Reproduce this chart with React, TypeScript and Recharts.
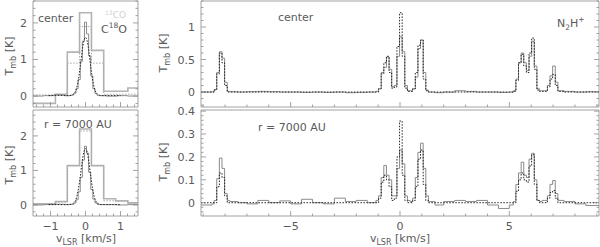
import React from 'react';
import { LineChart, Line, XAxis, YAxis } from 'recharts';

const W = 600;
const H = 247;
const AXIS = '#8c8c8c';
const INK = '#5a5a5a';
const FONT = '"DejaVu Sans", sans-serif';

// ---- left panels: C18O (fine) and 13CO (coarse) ----
const co13V = [-1.5, -0.86, -0.52, -0.17, 0.17, 0.52, 0.86, 1.21, 1.5];
const co13Center = [-0.2, 0.05, 1.2, 2.28, 1.25, 0.13, 0.13, 0.22, 0.22];
const co13CenterModel = [0.03, 0.03, 0.9, 1.9, 0.9, 0.05, 0.05, 0.05, 0.05];
const co13Outer = [0.03, 0.1, 1.14, 2.2, 1.14, 0.18, 0.12, 0.06, 0.06];
const co13OuterModel = [0.03, 0.08, 1.14, 2.14, 1.14, 0.12, 0.1, 0.06, 0.06];

const c18oV = [-1.5, -1.2, -0.9, -0.6, -0.45, -0.39, -0.33, -0.27, -0.21, -0.15, -0.09, -0.03, 0.03, 0.09, 0.15, 0.21, 0.27, 0.33, 0.39, 0.6, 0.9, 1.2, 1.5];
const c18oCenter = [0, 0.01, 0.03, 0.01, 0.02, 0.03, 0.08, 0.2, 0.45, 0.95, 1.5, 2.02, 1.7, 1.1, 0.55, 0.2, 0.07, 0.02, 0.01, 0, 0.01, 0, 0];
const c18oOuter = [0, 0.01, 0.02, 0.01, 0.02, 0.02, 0.06, 0.15, 0.38, 0.8, 1.3, 1.7, 1.5, 0.95, 0.45, 0.17, 0.06, 0.02, 0.01, 0.01, 0, 0.01, 0.01];

const c18oModelV = [-1.05, -0.8, -0.5, -0.4, -0.3, -0.25, -0.2, -0.15, -0.1, -0.05, 0, 0.05, 0.1, 0.15, 0.2, 0.25, 0.3, 0.4, 0.5, 0.8, 1.0];
const c18oCenterModel = [0.01, 0.02, 0.01, 0.02, 0.1, 0.23, 0.47, 0.8, 1.2, 1.5, 1.6, 1.5, 1.2, 0.8, 0.47, 0.23, 0.1, 0.02, 0.01, 0.01, 0.01];
const c18oOuterModel = [0.01, 0.01, 0.01, 0.02, 0.1, 0.24, 0.48, 0.82, 1.22, 1.52, 1.63, 1.52, 1.22, 0.82, 0.48, 0.24, 0.1, 0.02, 0.01, 0.01, 0.01];

// ---- right panels: N2H+ hyperfine spectrum ----
const n2hV = [
  -9.1, -8.6, -8.5, -8.38, -8.26, -8.14, -8.02, -7.9, -7.78, -7.4, -7.0, -6.5, -6.0, -5.5, -5.0, -4.5,
  -4.0, -3.5, -3.0, -2.5, -2.0, -1.5, -1.1, -0.98, -0.86, -0.74, -0.62, -0.5, -0.38, -0.26, -0.14, -0.02,
  0.1, 0.22, 0.34, 0.46, 0.58, 0.7, 0.82, 0.94, 1.06, 1.18, 1.3, 1.6, 2.0, 2.5, 3.0, 3.5, 4.0, 4.5, 5.0,
  5.18, 5.3, 5.42, 5.54, 5.66, 5.78, 5.9, 6.02, 6.14, 6.26, 6.38, 6.5, 6.62, 6.74, 6.86, 6.98, 7.1, 7.22,
  7.5, 8.0, 8.5, 9.1,
];
const n2hCenter = [
  0, 0.005, 0.04, 0.3, 0.62, 0.52, 0.15, 0.01, 0.005, 0, 0.005, 0.01, 0.005, 0, 0, -0.005,
  0, -0.005, 0, -0.01, -0.005, 0, 0.01, 0.05, 0.3, 0.38, 0.54, 0.35, 0.08, 0.1, 0.55, 0.85,
  0.62, 0.1, 0.02, 0.02, 0.05, 0.23, 0.67, 0.8, 0.3, 0.03, 0, -0.01, 0, 0.02, 0.01, 0, 0, -0.005, 0,
  0.02, 0.2, 0.45, 0.6, 0.45, 0.33, 0.55, 0.78, 0.4, 0.05, 0.02, 0.02, 0.02, 0.1, 0.25, 0.4, 0.15, 0.02,
  0.01, 0, 0.005, 0.005,
];
const n2hCenterModel = [
  0, 0, 0.03, 0.28, 0.6, 0.45, 0.1, 0, 0, 0, 0, 0, 0, 0, 0, 0,
  0, 0, 0, 0, 0, 0, 0, 0.05, 0.28, 0.45, 0.55, 0.3, 0.06, 0.08, 0.7, 1.22,
  0.55, 0.06, 0.01, 0.01, 0.05, 0.3, 0.72, 0.8, 0.2, 0.02, 0, 0, 0, 0, 0, 0, 0, 0, 0,
  0.01, 0.18, 0.45, 0.58, 0.4, 0.3, 0.6, 0.83, 0.35, 0.03, 0.01, 0.01, 0.01, 0.08, 0.2, 0.27, 0.1, 0.01,
  0, 0, 0, 0,
];
const n2hOuter = [
  -0.01, -0.005, 0.01, 0.105, 0.195, 0.15, 0.04, 0.01, 0.005, 0, -0.005, 0.01, 0, 0.008, -0.005, 0.015,
  0, -0.005, 0.02, 0.005, 0.01, 0, 0.01, 0.03, 0.11, 0.163, 0.12, 0.1, 0.03, 0.03, 0.15, 0.23,
  0.17, 0.03, 0.01, 0.005, 0.02, 0.11, 0.22, 0.26, 0.15, 0.03, 0.005, -0.01, 0.005, 0.01, 0.005, 0.01, -0.01, -0.025, -0.01,
  0.005, 0.08, 0.13, 0.177, 0.12, 0.11, 0.19, 0.216, 0.1, 0.01, 0.005, 0.01, 0.01, 0.03, 0.08, 0.097, 0.04, 0.01,
  0.005, -0.005, -0.012, -0.012,
];
const n2hOuterModel = [
  0, 0, 0, 0.07, 0.13, 0.11, 0.03, 0, 0, 0, 0, 0, 0, 0, 0, 0,
  0, 0, 0, 0, 0, 0, 0, 0.02, 0.09, 0.12, 0.1, 0.07, 0.01, 0.02, 0.2, 0.357,
  0.12, 0.01, 0, 0, 0.01, 0.07, 0.19, 0.23, 0.08, 0.01, 0, 0, 0, 0, 0, 0, 0, 0, 0,
  0, 0.05, 0.1, 0.13, 0.1, 0.09, 0.16, 0.21, 0.08, 0.01, 0, 0, 0, 0.02, 0.045, 0.053, 0.02, 0,
  0, 0, 0, 0,
];

// axis ticks
const leftXMajor = [-1, 0, 1];
const rightXMajor = [-5, 0, 5];
const leftYMajor = [0, 1, 2];
const topRightYMajor = [0, 0.5, 1];
const botRightYMajor = [0, 0.1, 0.2, 0.3, 0.4];

function steps(from: number, to: number, step: number) {
  const out: number[] = [];
  for (let k = Math.round(from / step); k * step <= to + 1e-9; k++) out.push(+(k * step).toFixed(4));
  return out;
}

const pts = (xs: number[], ys: number[]) => xs.map((v, i) => ({ v, t: ys[i] }));
const fmt = (v: number) => (v < 0 ? '\u2212' + String(Math.abs(v)) : String(v));

type Side = 'bottom' | 'top' | 'left' | 'right';

const tickRenderer = (side: Side, majors: number[], labels: boolean) => (props: any) => {
  const { x, y, payload } = props;
  const v = payload.value as number;
  const major = majors.some((m) => Math.abs(m - v) < 1e-6);
  const len = major ? 5 : 2.5;
  let ln = { x1: x, y1: y, x2: x, y2: y };
  if (side === 'bottom') ln = { x1: x, y1: y, x2: x, y2: y - len };
  if (side === 'top') ln = { x1: x, y1: y, x2: x, y2: y + len };
  if (side === 'left') ln = { x1: x, y1: y, x2: x + len, y2: y };
  if (side === 'right') ln = { x1: x, y1: y, x2: x - len, y2: y };
  return (
    <g>
      <line {...ln} stroke={AXIS} strokeWidth={0.8} />
      {labels && major && side === 'bottom' && (
        <text x={x} y={y + 14} textAnchor="middle" fontSize={11} fontFamily={FONT} fill={INK}>
          {fmt(v)}
        </text>
      )}
      {labels && major && side === 'left' && (
        <text x={x - 6} y={y + 4} textAnchor="end" fontSize={11} fontFamily={FONT} fill={INK}>
          {fmt(v)}
        </text>
      )}
    </g>
  );
};

interface Series {
  data: { v: number; t: number }[];
  stroke: string;
  width?: number;
  dash?: string;
  type?: 'stepAfter' | 'monotone';
}

interface PanelProps {
  // plot box edges in page pixels
  box: { top: number; right: number; bottom: number; left: number };
  xDomain: [number, number];
  yDomain: [number, number];
  xTicks: number[];
  xMajor: number[];
  yTicks: number[];
  yMajor: number[];
  xLabels: boolean;
  series: Series[];
}

function Panel({ box, xDomain, yDomain, xTicks, xMajor, yTicks, yMajor, xLabels, series }: PanelProps) {
  // axes are 1px wide/high, so take that off the margins
  const margin = { top: box.top - 1, left: box.left - 1, right: W - box.right - 1, bottom: H - box.bottom - 1 };
  const common = {
    type: 'number' as const,
    allowDataOverflow: true,
    interval: 0 as const,
    tickSize: 0,
    tickMargin: 0,
    tickLine: false,
    axisLine: { stroke: AXIS, strokeWidth: 0.8 },
  };
  return (
    <div style={{ position: 'absolute', left: 0, top: 0 }}>
      <LineChart width={W} height={H} margin={margin}>
        <XAxis {...common} xAxisId="b" dataKey="v" domain={xDomain} ticks={xTicks} height={1} tick={tickRenderer('bottom', xMajor, xLabels)} />
        <XAxis {...common} xAxisId="t" orientation="top" domain={xDomain} ticks={xTicks} height={1} tick={tickRenderer('top', xMajor, false)} />
        <YAxis {...common} yAxisId="l" domain={yDomain} ticks={yTicks} width={1} tick={tickRenderer('left', yMajor, true)} />
        <YAxis {...common} yAxisId="r" orientation="right" domain={yDomain} ticks={yTicks} width={1} tick={tickRenderer('right', yMajor, false)} />
        {series.map((s, i) => (
          <Line
            key={i}
            xAxisId="b"
            yAxisId="l"
            data={s.data}
            dataKey="t"
            type={s.type ?? 'stepAfter'}
            stroke={s.stroke}
            strokeWidth={s.width ?? 1}
            strokeDasharray={s.dash}
            dot={false}
            activeDot={false}
            isAnimationActive={false}
          />
        ))}
      </LineChart>
    </div>
  );
}

function Tmb({ x, y }: { x: number; y: number }) {
  return (
    <text transform={`translate(${x},${y}) rotate(-90)`} textAnchor="middle">
      T<tspan dy={3} fontSize={8}>mb</tspan>
      <tspan dy={-3}> [K]</tspan>
    </text>
  );
}

function Vlsr({ x, y }: { x: number; y: number }) {
  return (
    <text x={x} y={y} textAnchor="middle">
      v<tspan dy={3} fontSize={8}>LSR</tspan>
      <tspan dy={-3}> [km/s]</tspan>
    </text>
  );
}

export default function App() {
  const GRAY_THICK = '#b4b4b4';
  const GRAY = '#8a8a8a';
  const BLACK = '#222';
  const DOT = '1.5 1.5';
  const leftX = steps(-1.4, 1.4, 0.2);
  const leftY = steps(-0.2, 2.6, 0.2);
  const rightX = steps(-9, 9, 1);

  return (
    <div style={{ position: 'absolute', left: 0, top: 0, width: W, height: H, background: '#fff' }}>
      <Panel
        box={{ top: 1, right: 138, bottom: 107, left: 33 }}
        xDomain={[-1.5, 1.5]}
        yDomain={[-0.3, 2.6]}
        xTicks={leftX}
        xMajor={leftXMajor}
        yTicks={leftY}
        yMajor={leftYMajor}
        xLabels={false}
        series={[
          { data: pts(co13V, co13Center), stroke: GRAY_THICK, width: 1.6 },
          { data: pts(co13V, co13CenterModel), stroke: '#a8a8a8', dash: DOT },
          { data: pts(c18oV, c18oCenter), stroke: GRAY },
          { data: pts(c18oModelV, c18oCenterModel), stroke: BLACK, dash: DOT, type: 'monotone' },
        ]}
      />
      <Panel
        box={{ top: 110, right: 138, bottom: 216, left: 33 }}
        xDomain={[-1.5, 1.5]}
        yDomain={[-0.32, 2.75]}
        xTicks={leftX}
        xMajor={leftXMajor}
        yTicks={leftY}
        yMajor={leftYMajor}
        xLabels
        series={[
          { data: pts(co13V, co13Outer), stroke: GRAY_THICK, width: 1.6 },
          { data: pts(co13V, co13OuterModel), stroke: '#a8a8a8', dash: DOT },
          { data: pts(c18oV, c18oOuter), stroke: GRAY },
          { data: pts(c18oModelV, c18oOuterModel), stroke: BLACK, dash: DOT, type: 'monotone' },
        ]}
      />
      <Panel
        box={{ top: 1, right: 599, bottom: 107, left: 201 }}
        xDomain={[-9.1, 9.1]}
        yDomain={[-0.23, 1.4]}
        xTicks={rightX}
        xMajor={rightXMajor}
        yTicks={steps(-0.2, 1.4, 0.1)}
        yMajor={topRightYMajor}
        xLabels={false}
        series={[
          { data: pts(n2hV, n2hCenter), stroke: GRAY },
          { data: pts(n2hV, n2hCenterModel), stroke: BLACK, dash: DOT },
        ]}
      />
      <Panel
        box={{ top: 110, right: 599, bottom: 216, left: 201 }}
        xDomain={[-9.1, 9.1]}
        yDomain={[-0.058, 0.405]}
        xTicks={rightX}
        xMajor={rightXMajor}
        yTicks={steps(-0.04, 0.4, 0.02)}
        yMajor={botRightYMajor}
        xLabels
        series={[
          { data: pts(n2hV, n2hOuter), stroke: GRAY },
          { data: pts(n2hV, n2hOuterModel), stroke: BLACK, dash: DOT },
        ]}
      />
      <svg width={W} height={H} style={{ position: 'absolute', left: 0, top: 0, pointerEvents: 'none' }} fontFamily={FONT} fontSize={11} fill={INK}>
        <Tmb x={13} y={56} />
        <Tmb x={13} y={165} />
        <Tmb x={167} y={53} />
        <Tmb x={167} y={162} />
        <Vlsr x={86} y={242} />
        <Vlsr x={400} y={242} />
        <text x={38} y={22}>center</text>
        <text x={101} y={33}>
          C<tspan dy={-5} fontSize={7.5}>18</tspan>
          <tspan dy={5}>O</tspan>
        </text>
        <text x={105} y={18} fill="#cfcfcf" fontSize={9}>
          <tspan dy={-3} fontSize={6}>13</tspan>
          <tspan dy={3}>CO</tspan>
        </text>
        <text x={44} y={128}>r = 7000 AU</text>
        <text x={278} y={21}>center</text>
        <text x={557} y={27}>
          N<tspan dy={3} fontSize={7.5}>2</tspan>
          <tspan dy={-3}>H</tspan>
          <tspan dy={-5} fontSize={7.5}>+</tspan>
        </text>
        <text x={258} y={131}>r = 7000 AU</text>
      </svg>
    </div>
  );
}
